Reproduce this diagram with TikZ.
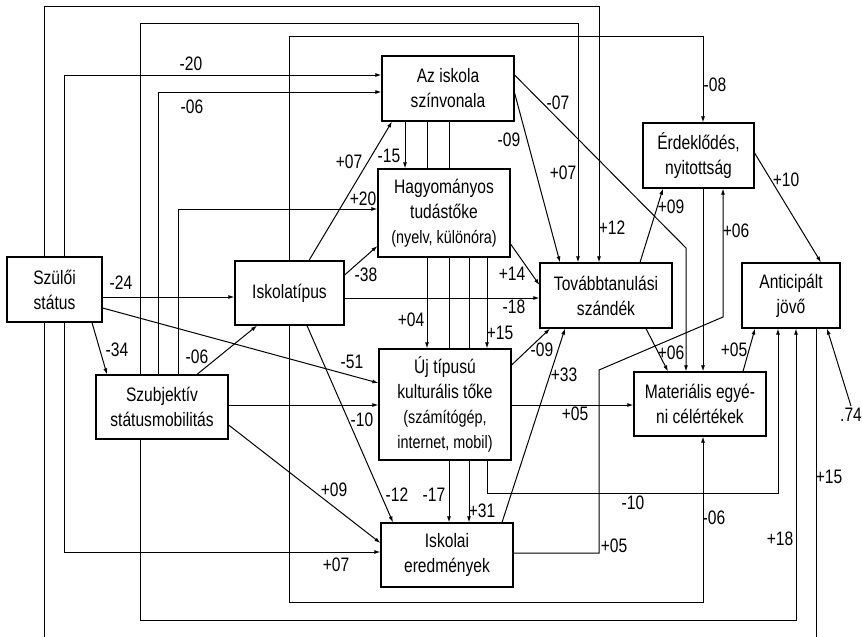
\documentclass[tikz,border=0pt]{standalone}
\usepackage{fontspec}
\setmainfont{Liberation Sans}[FakeStretch=0.8]
\usetikzlibrary{arrows.meta}
\pgfdeclarelayer{bg}
\pgfsetlayers{bg,main}
\newcommand\subtxt{\fontsize{18}{25}\selectfont}
\begin{document}
\begin{tikzpicture}[x=1pt,y=-1pt,
  box/.style={draw, line width=1.2pt, fill=white, align=center, inner sep=0pt, font=\fontsize{19.5}{25}\selectfont},
  arr/.style={line width=1pt, -{Latex[length=6pt,width=4pt]}},
  ln/.style={line width=1pt},
  lab/.style={font=\fontsize{19.5}{22}\selectfont, inner sep=0pt}]
\useasboundingbox (0,0) rectangle (862,637);
% nodes
\node[box, minimum width=95pt, minimum height=65pt] (sz) at (54.5,289.5) {Szülői\\státus};
\node[box, minimum width=109pt, minimum height=64pt] (it) at (289.5,293) {Iskolatípus};
\node[box, minimum width=132pt, minimum height=64pt] (sm) at (162,407) {Szubjektív\\státusmobilitás};
\node[box, minimum width=132pt, minimum height=65pt] (az) at (448,88.5) {Az iskola\\színvonala};
\node[box, minimum width=132pt, minimum height=88pt] (hg) at (444,213) {Hagyományos\\tudástőke\\{\subtxt (nyelv, különóra)}};
\node[box, minimum width=132pt, minimum height=111pt] (uj) at (445,404.5) {Új típusú\\kulturális tőke\\{\subtxt (számítógép,}\\{\subtxt internet, mobil)}};
\node[box, minimum width=132pt, minimum height=64pt] (ie) at (447,555) {Iskolai\\eredmények};
\node[box, minimum width=132pt, minimum height=65pt] (tt) at (606,295.5) {Továbbtanulási\\szándék};
\node[box, minimum width=111pt, minimum height=65pt] (er) at (698.5,155.5) {Érdeklődés,\\nyitottság};
\node[box, minimum width=98pt, minimum height=65pt] (an) at (791,295.5) {Anticipált\\jövő};
\node[box, minimum width=132pt, minimum height=64pt] (ma) at (700,404) {Materiális egyé-\\ni célértékek};
\node[lab] (e74) at (851,415) {.74};

\begin{pgfonlayer}{bg}
% long frame lines
\draw[arr] (44,0 |- sz.north) -- (44,6) -| (599,0 |- tt.north);
\draw[arr] (140,0 |- sm.north) -- (140,23) -| (578,0 |- tt.north);
\draw[arr] (289,0 |- it.north) -- (289,36) -| (703,0 |- er.north);
\draw[arr] (64,0 |- sz.north) |- (az.west |- 0,75);
\draw[arr] (158,0 |- sm.north) |- (az.west |- 0,92);
\draw[arr] (178,0 |- sm.north) |- (hg.west |- 0,209);
\draw[arr] (64,0 |- sz.south) |- (ie.west |- 0,552);
\begin{scope}
\clip (0,0) rectangle (862,637);
\draw[ln] (44,0 |- sz.south) -- (44,660) -| (816,0 |- an.south);
\end{scope}
\draw[arr] (140,0 |- sm.south) -- (140,620) -| (796,0 |- an.south);
\draw[arr] (289,0 |- it.south) -- (289,602) -| (703,0 |- ma.south);
% direct arrows
\draw[arr] (sz.east |- 0,297) -- (it.west |- 0,297);
\draw[arr] (sz.east |- 0,308) -- (uj.west |- 0,383);
\draw[arr] (92,0 |- sz.south) -- (107,0 |- sm.north);
\draw[arr] (197,0 |- sm.north) -- (257,0 |- it.south);
\draw[arr] (sm.east |- 0,405) -- (uj.west |- 0,405);
\draw[arr] (sm.east |- 0,425) -- (ie.west |- 0,543);
\draw[arr] (309,0 |- it.north) -- (392,0 |- az.south);
\draw[arr] (it.east |- 0,275) -- (hg.west |- 0,246);
\draw[arr] (it.east |- 0,298) -- (tt.west |- 0,298);
\draw[arr] (307,0 |- it.south) -- (393,0 |- ie.north);
\draw[arr] (405,0 |- az.south) -- (405,0 |- hg.north);
\draw[arr] (427,0 |- az.south) -- (427,0 |- uj.north);
\draw[arr] (449,0 |- az.south) -- (449,0 |- ie.north);
\draw[arr] (469,0 |- hg.south) -- (469,0 |- ie.north);
\draw[arr] (487,0 |- hg.south) -- (487,0 |- uj.north);
\draw[arr] (487,0 |- uj.south) -- (487,493) -| (778,0 |- an.south);
\draw[arr] (az.east |- 0,93) -- (560,0 |- tt.north);
\draw[arr] (az.east |- 0,75) -- (686,248) -- (686,0 |- ma.north);
\draw[arr] (hg.east |- 0,244) -- (tt.west |- 0,285);
\draw[arr] (640,0 |- tt.north) -- (663,0 |- er.south);
\draw[arr] (646,0 |- tt.south) -- (668,0 |- ma.north);
\draw[arr] (703,0 |- er.south) -- (703,0 |- ma.north);
\draw[arr] (ie.east |- 0,553) -- (599,553) -- (599,370) -- (723,317) -- (723,0 |- er.south);
\draw[arr] (uj.east |- 0,365) -- (550,0 |- tt.south);
\draw[arr] (502,0 |- ie.north) -- (565,0 |- tt.south);
\draw[arr] (uj.east |- 0,405) -- (ma.west |- 0,405);
\draw[arr] (743,0 |- ma.north) -- (755,0 |- an.south);
\draw[arr] (er.east |- 0,153) -- (821,0 |- an.north);
\draw[arr] ([yshift=2pt]e74.north) -- (827,0 |- an.south);
\end{pgfonlayer}

% labels
\node[lab] (l1) at (191,64) {-20};
\node[lab] (l2) at (192,107) {-06};
\node[lab] (l3) at (349,162) {+07};
\node[lab] (l4) at (389,156) {-15};
\node[lab] (l5) at (363,199) {+20};
\node[lab] (l6) at (121,283) {-24};
\node[lab] (l7) at (366,275) {-38};
\node[lab] (l8) at (558,103) {-07};
\node[lab] (l9) at (715,85) {-08};
\node[lab] (l10) at (509,140) {-09};
\node[lab] (l11) at (563,173) {+07};
\node[lab] (l12) at (671,207) {+09};
\node[lab] (l13) at (786,180) {+10};
\node[lab] (l14) at (612,228) {+12};
\node[lab] (l15) at (736,231) {+06};
\node[lab] (l16) at (512,274) {+14};
\node[lab] (l17) at (514,307) {-18};
\node[lab] (l18) at (117,350) {-34};
\node[lab] (l19) at (197,357) {-06};
\node[lab] (l20) at (352,362) {-51};
\node[lab] (l21) at (362,420) {-10};
\node[lab] (l22) at (334,490) {+09};
\node[lab] (l23) at (397,495) {-12};
\node[lab] (l24) at (336,565) {+07};
\node[lab] (l25) at (500,333) {+15};
\node[lab] (l26) at (411,320) {+04};
\node[lab] (l27) at (542,350) {-09};
\node[lab] (l28) at (671,353) {+06};
\node[lab] (l29) at (734,350) {+05};
\node[lab] (l30) at (564,375) {+33};
\node[lab] (l31) at (575,414) {+05};
\node[lab] (l32) at (434,495) {-17};
\node[lab] (l33) at (482,511) {+31};
\node[lab] (l34) at (633,503) {-10};
\node[lab] (l35) at (714,518) {-06};
\node[lab] (l36) at (614,546) {+05};
\node[lab] (l37) at (780,539) {+18};
\node[lab] (l38) at (829,477) {+15};
\end{tikzpicture}
\end{document}
